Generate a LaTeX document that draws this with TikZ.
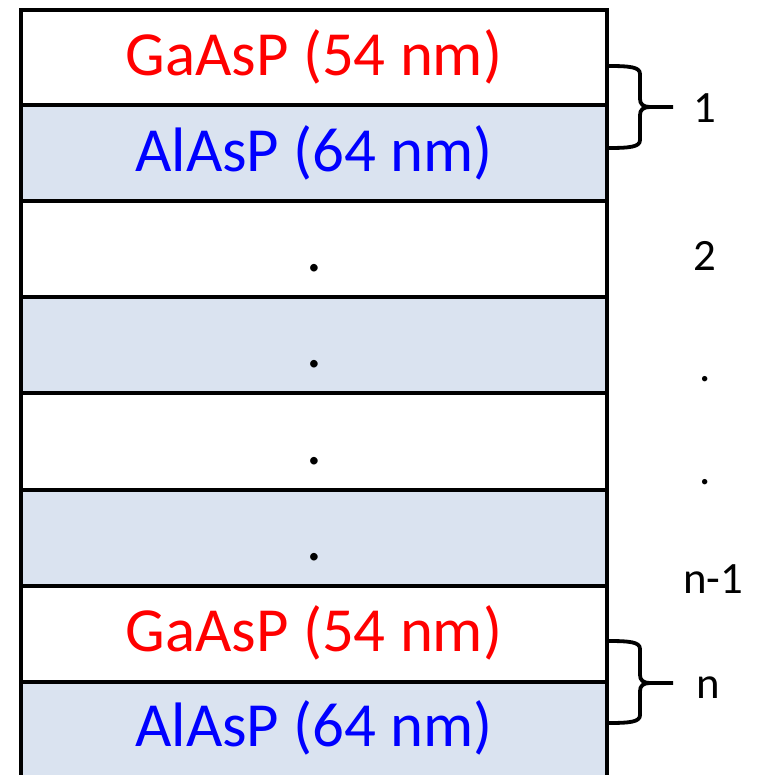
\documentclass[tikz,border=0pt]{standalone}
\usepackage{fontspec}
\setmainfont{Carlito}
\definecolor{layerblue}{HTML}{DAE3F0}
\definecolor{txtred}{HTML}{FF0000}
\definecolor{txtblue}{HTML}{0000FF}
\begin{document}
\begin{tikzpicture}[x=0.5pt,y=-0.5pt,
  layerline/.style={draw=black,line width=1.9pt},
  whitelayer/.style={layerline,fill=white},
  bluelayer/.style={layerline,fill=layerblue},
  redtxt/.style={text=txtred,font=\fontsize{31.4}{36}\selectfont,inner sep=0pt},
  bluetxt/.style={text=txtblue,font=\fontsize{31.4}{36}\selectfont,inner sep=0pt},
  dottxt/.style={font=\fontsize{31.4}{36}\selectfont,inner sep=0pt,anchor=base},
  sidetxt/.style={font=\fontsize{22.4}{26}\selectfont,inner sep=0pt,anchor=base},
  bracestyle/.style={draw=black,line width=1.9pt,line join=round}]
\useasboundingbox (0,0) rectangle (756,775);
\clip (0,0) rectangle (756,775);
% layers
\draw[whitelayer] (21,10) rectangle (607,105);
\draw[bluelayer] (21,105) rectangle (607,201);
\draw[whitelayer] (21,201) rectangle (607,297);
\draw[bluelayer] (21,297) rectangle (607,393);
\draw[whitelayer] (21,393) rectangle (607,490);
\draw[bluelayer] (21,490) rectangle (607,586);
\draw[whitelayer] (21,586) rectangle (607,682);
\draw[bluelayer] (21,682) rectangle (607,800);
% layer texts
\node[redtxt] (g1) at (314,57) {GaAsP (54 nm)};
\node[bluetxt] (a1) at (314,153) {AlAsP (64 nm)};
\node[dottxt] (d1) at (314,271) {.};
\node[dottxt] (d2) at (314,367) {.};
\node[dottxt] (d3) at (314,464) {.};
\node[dottxt] (d4) at (314,560) {.};
\node[redtxt] (g2) at (314,633) {GaAsP (54 nm)};
\node[bluetxt] (a2) at (314,728) {AlAsP (64 nm)};
% braces
\coordinate (b1t) at (608,66);
\coordinate (b1b) at (608,148);
\coordinate (b1e) at (673,107);
\draw[bracestyle] (b1t) .. controls (630,66) and (640,67) .. (640,74) -- (640,99)
  .. controls (640,104) and (643,107) .. (650,107) -- (b1e);
\draw[bracestyle] (b1b) .. controls (630,148) and (640,147) .. (640,140) -- (640,115)
  .. controls (640,110) and (643,107) .. (650,107);
\coordinate (bnt) at (608,641);
\coordinate (bnb) at (608,723);
\coordinate (bne) at (673,683);
\draw[bracestyle] (bnt) .. controls (630,641) and (640,642) .. (640,649) -- (640,675)
  .. controls (640,680) and (643,683) .. (650,683) -- (bne);
\draw[bracestyle] (bnb) .. controls (630,723) and (640,722) .. (640,715) -- (640,691)
  .. controls (640,686) and (643,683) .. (650,683);
% side labels
\node[sidetxt] (l1) at (705,123) {1};
\node[sidetxt] (l2) at (705,270) {2};
\node[sidetxt] (l3) at (705,381) {.};
\node[sidetxt] (l4) at (705,484) {.};
\node[sidetxt] (l5) at (713,593) {n-1};
\node[sidetxt] (l6) at (708,698) {n};
\end{tikzpicture}
\end{document}
